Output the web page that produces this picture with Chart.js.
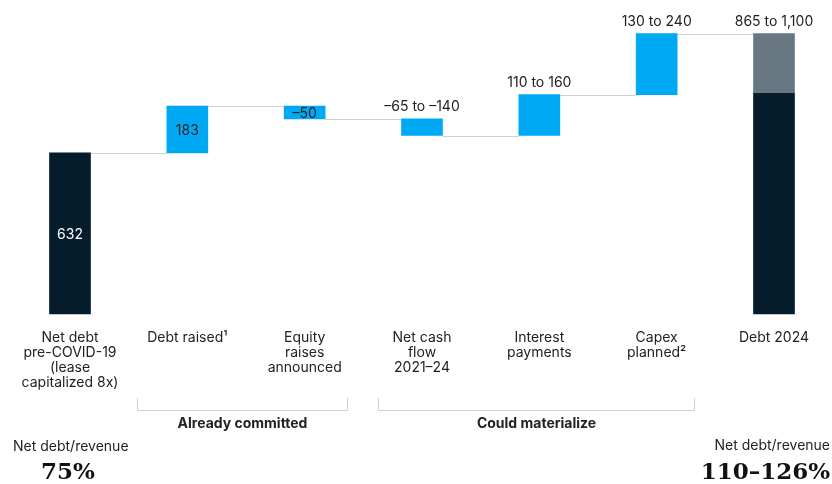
<!DOCTYPE html>
<html>
<head>
<meta charset="utf-8">
<script src="https://cdn.jsdelivr.net/npm/chart.js@4.4.1/dist/chart.umd.min.js"></script>
<style>
  html, body { margin: 0; padding: 0; background: #fff; }
  #wrap { position: relative; width: 832px; height: 484px; }
</style>
</head>
<body>
<div id="wrap"><canvas id="debtChart"></canvas></div>
<script>
// Categories (multi-line tick labels)
const categories = [
    ['Net debt', 'pre-COVID-19', '(lease', 'capitalized 8x)'],
    ['Debt raised¹'],
    ['Equity', 'raises', 'announced'],
    ['Net cash', 'flow', '2021–24'],
    ['Interest', 'payments'],
    ['Capex', 'planned²'],
    ['Debt 2024']
];

// Running total after each step of the bridge
const runningTotals = [632, 815, 765, 700, 860, 1100];
// Debt 2024 range
const debt2024Low = 865;
const debt2024High = 1100;

const valueLabels = ['632', '183', '–50', '–65 to –140', '110 to 160', '130 to 240', '865 to 1,100'];

const groups = [
    { label: 'Already committed', from: 1, to: 2 },
    { label: 'Could materialize', from: 3, to: 5 }
];

const ratioLabel = 'Net debt/revenue';
const ratioBefore = '75%';
const ratioAfter = '110–126%';

// Colours
const navy = '#051c2c';
const blue = '#00a9f4';
const slate = '#687882';
const lineGray = '#d0d0d0';
const textColor = '#222222';
const sans = 'Inter, "Liberation Sans", Arial, sans-serif';

// Floating bar ranges built from the running totals
const mainRanges = runningTotals.map((v, i) => i === 0 ? [0, v] : [runningTotals[i - 1], v]);
mainRanges.push([0, debt2024Low]);
const upperRange = categories.map((c, i) => i === categories.length - 1 ? [debt2024Low, debt2024High] : null);
const barColors = categories.map((c, i) => (i === 0 || i === categories.length - 1) ? navy : blue);

// Connector lines between bars
const connectorPlugin = {
    id: 'connectors',
    beforeDatasetsDraw(chart) {
        const ctx = chart.ctx;
        const bars = chart.getDatasetMeta(0).data;
        const y = chart.scales.y;
        ctx.save();
        ctx.strokeStyle = lineGray;
        ctx.lineWidth = 1;
        runningTotals.forEach((v, i) => {
            const a = bars[i], b = bars[i + 1];
            const py = Math.round(y.getPixelForValue(v)) + 0.5;
            ctx.beginPath();
            ctx.moveTo(a.x + a.width / 2, py);
            ctx.lineTo(b.x - b.width / 2, py);
            ctx.stroke();
        });
        ctx.restore();
    }
};

// Value labels, brackets and footer ratios
const labelPlugin = {
    id: 'valueLabels',
    afterDatasetsDraw(chart) {
        const ctx = chart.ctx;
        const bars = chart.getDatasetMeta(0).data;
        const y = chart.scales.y;
        const x = chart.scales.x;
        const area = chart.chartArea;
        ctx.save();
        ctx.font = '14px ' + sans;
        ctx.textAlign = 'center';
        ctx.textBaseline = 'middle';
        valueLabels.forEach((txt, i) => {
            const bar = bars[i];
            if (i <= 2) {
                ctx.fillStyle = i === 0 ? '#ffffff' : textColor;
                ctx.fillText(txt, bar.x, (bar.y + bar.base) / 2 + 1);
            } else {
                const topVal = i === categories.length - 1 ? debt2024High : Math.max(...mainRanges[i]);
                ctx.fillStyle = textColor;
                ctx.fillText(txt, bar.x, y.getPixelForValue(topVal) - 12);
            }
        });

        // group brackets
        const top = area.bottom + 84, bottom = area.bottom + 96;
        groups.forEach((g, gi) => {
            const left = Math.round(x.getPixelForValue(g.from) - (gi === 0 ? 50 : 44)) + 0.5;
            const right = Math.round(x.getPixelForValue(g.to) + (gi === 0 ? 42 : 37)) + 0.5;
            ctx.strokeStyle = lineGray;
            ctx.lineWidth = 1;
            ctx.beginPath();
            ctx.moveTo(left, top);
            ctx.lineTo(left, bottom + 0.5);
            ctx.lineTo(right, bottom + 0.5);
            ctx.lineTo(right, top);
            ctx.stroke();
            ctx.fillStyle = textColor;
            ctx.font = 'bold 14px ' + sans;
            ctx.fillText(g.label, (left + right) / 2, area.bottom + 110);
        });

        // net debt / revenue ratios
        ctx.font = '14px ' + sans;
        ctx.fillStyle = textColor;
        ctx.textAlign = 'left';
        ctx.fillText(ratioLabel, 13, 447);
        ctx.textAlign = 'right';
        ctx.fillText(ratioLabel, 830, 446);
        ctx.font = 'bold 23px "DejaVu Serif", serif';
        ctx.fillStyle = '#111111';
        ctx.textAlign = 'center';
        ctx.fillText(ratioBefore, 68, 473);
        ctx.textAlign = 'right';
        ctx.fillText(ratioAfter, 830, 473);
        ctx.restore();
    }
};

const ctx = document.getElementById('debtChart').getContext('2d');
const debtChart = new Chart(ctx, {
    type: 'bar',
    data: {
        labels: categories,
        datasets: [{
            data: mainRanges,
            backgroundColor: barColors,
            borderWidth: 0,
            barThickness: 41,
            grouped: false,
            clip: false
        }, {
            data: upperRange,
            backgroundColor: slate,
            borderWidth: 0,
            barThickness: 41,
            grouped: false,
            clip: false
        }]
    },
    options: {
        responsive: true,
        maintainAspectRatio: false,
        animation: false,
        layout: {
            padding: { left: 70, right: 58, top: 8, bottom: 0 }
        },
        plugins: {
            legend: { display: false },
            tooltip: { enabled: false }
        },
        scales: {
            x: {
                offset: false,
                grid: { display: false, drawTicks: false },
                border: { display: false },
                ticks: {
                    color: textColor,
                    padding: 16,
                    maxRotation: 0,
                    autoSkip: false,
                    font: { family: sans, size: 14, lineHeight: 1.07 }
                },
                afterFit(scale) {
                    scale.height = 170;
                }
            },
            y: {
                display: false,
                min: 0,
                max: 1200
            }
        }
    },
    plugins: [connectorPlugin, labelPlugin]
});
</script>
</body>
</html>
